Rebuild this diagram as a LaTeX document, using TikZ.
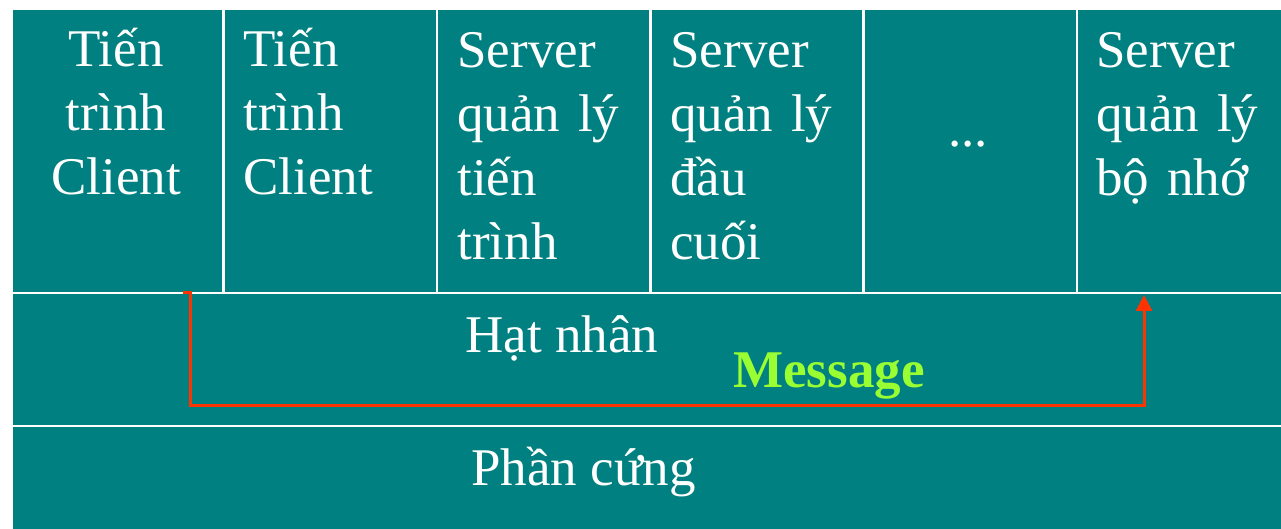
\documentclass[tikz,border=0pt]{standalone}
\usepackage{fontspec}
\setmainfont{Liberation Serif}
\usetikzlibrary{arrows.meta,positioning}
\definecolor{kteal}{RGB}{0,128,128}
\definecolor{msgred}{RGB}{255,51,0}
\definecolor{msggreen}{RGB}{153,255,51}
\tikzset{
    cell/.style={rectangle, draw=white, fill=kteal, line width=1.25pt, anchor=north west, inner sep=0pt, minimum width=106.75pt},
    lbl/.style={text=white, inner sep=0pt, font=\fontsize{26.5pt}{32pt}\selectfont},
    col/.style={lbl, anchor=base west, text width=95pt, align=left},
    msg/.style={draw=msgred, line width=1.5pt, -{Triangle[width=8pt,length=8pt]}}
}

\begin{document}
\begin{tikzpicture}[x=0.5pt,y=-0.5pt]
\path[use as bounding box, fill=white] (0,0) rectangle (1281,529);
\clip (0,0) rectangle (1281,529);
\node[cell, minimum width=106pt, minimum height=142pt] (c1) at (10,8) {};
\node[cell, minimum height=142pt] (c2) at (222,8) {};
\node[cell, minimum height=142pt] (c3) at (435.5,8) {};
\node[cell, minimum height=142pt] (c4) at (649,8) {};
\node[cell, minimum height=142pt] (c5) at (862,8) {};
\node[cell, minimum height=142pt] (c6) at (1075.5,8) {};
\node[cell, minimum width=660pt, minimum height=66.5pt] (kernel) at (10,292) {};
\node[cell, minimum width=660pt, minimum height=70pt] (hw) at (10,425) {};
\coordinate (src) at (183,293);
\coordinate (dst) at (1144,295);
\coordinate (low) at (0,406);
\draw[msg] (src) -- ++(7,0) |- (low -| dst) -- (dst);
\node[lbl, anchor=base, text width=100pt, align=center] (t1) at (116,67) {Tiến\\trình\\Client};
\node[col] (t2) at (243,67) {Tiến\\trình\\Client};
\node[col] (t3) at (457,68) {Server\\quản lý\\tiến\\trình};
\node[col] (t4) at (670,68) {Server\\quản lý\\đầu\\cuối};
\node[lbl, anchor=base] (t5) at (968,147) {...};
\node[col] (t6) at (1096,68) {Server\\quản lý\\bộ nhớ};
\node[lbl, anchor=base west] (kt) at (465,353) {Hạt nhân};
\node[lbl, anchor=base west] (ht) at (471,486) {Phần cứng};
\node[lbl, anchor=base west, text=msggreen, font=\fontsize{26.5pt}{32pt}\selectfont\bfseries] (mt) at (733,388) {Message};
\end{tikzpicture}
\end{document}
